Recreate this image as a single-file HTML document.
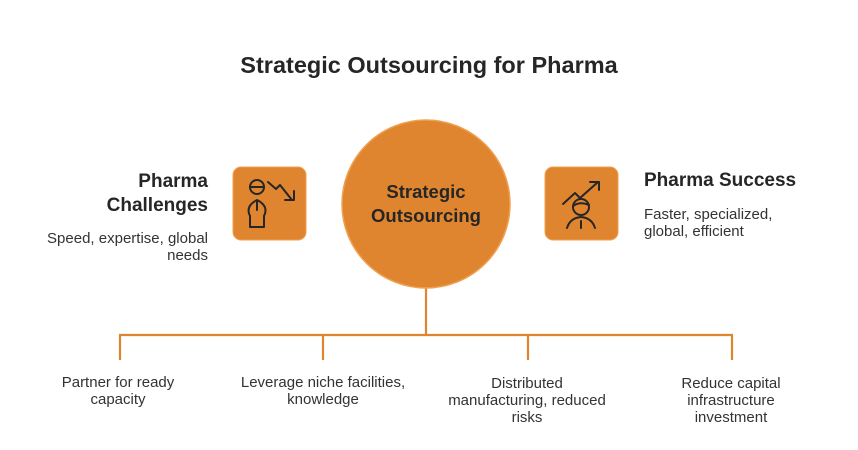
<!DOCTYPE html>
<html><head><meta charset="utf-8"><style>
body{margin:0;width:858px;height:450px;background:#fff;overflow:hidden;font-family:"Liberation Sans",sans-serif;}
svg{position:absolute;left:0;top:0}
</style></head><body>
<svg width="858" height="450" viewBox="0 0 858 450">
<text x="429" y="73" text-anchor="middle" font-size="23.5" font-weight="bold" fill="#262626">Strategic Outsourcing for Pharma</text>
<g stroke="#E0852F" stroke-width="2.2" fill="none">
<line x1="426" y1="288" x2="426" y2="335"/>
<line x1="119" y1="335" x2="733" y2="335"/>
<line x1="120" y1="335" x2="120" y2="360"/>
<line x1="323" y1="335" x2="323" y2="360"/>
<line x1="528" y1="335" x2="528" y2="360"/>
<line x1="732" y1="335" x2="732" y2="360"/>
</g>
<circle cx="426" cy="204" r="84" fill="#E0852F" stroke="#F0A050" stroke-width="1.5"/>
<text x="426" y="198" text-anchor="middle" font-size="18.5" font-weight="bold" fill="#262626">Strategic</text>
<text x="426" y="222" text-anchor="middle" font-size="18.5" font-weight="bold" fill="#262626">Outsourcing</text>
<rect x="233" y="167" width="73" height="73" rx="8" fill="#E0852F" stroke="#F0A050"/>
<rect x="545" y="167" width="73" height="73" rx="8" fill="#E0852F" stroke="#F0A050"/>
<g stroke="#262626" stroke-width="2" fill="none" stroke-linecap="round" stroke-linejoin="round">
<circle cx="257" cy="187" r="7"/><line x1="250" y1="187" x2="264" y2="187"/>
<path d="M250 227 V216 Q245 206 257 200 Q269 206 264 216 V227 Z"/><line x1="257" y1="201" x2="257" y2="210"/>
<path d="M268 182 L276 189 L280 185 L292 200"/><path d="M285 200 H294 V191"/>
<circle cx="581" cy="207" r="8"/><path d="M573 206 Q580 201 589 205"/>
<path d="M567 228 Q570 218 581 217 Q592 218 595 228"/><line x1="581" y1="221" x2="581" y2="228"/>
<path d="M563 204 L575 193 L580 198 L598 182"/><path d="M590 182 H599 V190"/>
</g>
<g font-size="19" font-weight="bold" fill="#262626">
<text x="208" y="187" text-anchor="end">Pharma</text>
<text x="208" y="211" text-anchor="end">Challenges</text>
<text x="644" y="186">Pharma Success</text>
</g>
<g font-size="15" fill="#333">
<text x="208" y="243" text-anchor="end">Speed, expertise, global</text>
<text x="208" y="260" text-anchor="end">needs</text>
<text x="644" y="219">Faster, specialized,</text>
<text x="644" y="236">global, efficient</text>
</g>
<g font-size="15" fill="#333" text-anchor="middle">
<text x="118" y="387">Partner for ready</text>
<text x="118" y="404">capacity</text>
<text x="323" y="387">Leverage niche facilities,</text>
<text x="323" y="404">knowledge</text>
<text x="527" y="388">Distributed</text>
<text x="527" y="405">manufacturing, reduced</text>
<text x="527" y="422">risks</text>
<text x="731" y="388">Reduce capital</text>
<text x="731" y="405">infrastructure</text>
<text x="731" y="422">investment</text>
</g>
</svg>
</body></html>
